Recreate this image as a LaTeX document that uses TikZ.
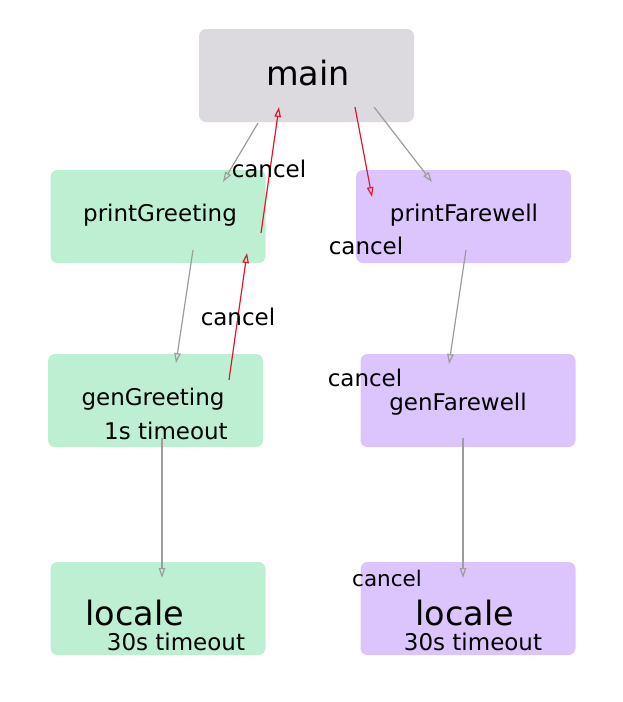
\documentclass[tikz,border=0pt]{standalone}
\usepackage{fontspec}
\setmainfont{DejaVu Sans}
\usetikzlibrary{arrows.meta,calc}
\definecolor{graybox}{HTML}{DCDADF}
\definecolor{greenbox}{HTML}{BDF0D2}
\definecolor{purplebox}{HTML}{DCC4FC}
\definecolor{edgegray}{HTML}{9C9C9C}
\definecolor{edgered}{HTML}{E0182A}
\tikzset{
  box/.style={rectangle, rounded corners=7pt, minimum width=215pt, minimum height=93pt, inner sep=0pt},
  big/.style={inner sep=0pt, font=\fontsize{33.5}{36}\selectfont},
  small/.style={inner sep=0pt, font=\fontsize{23}{25}\selectfont},
  garrow/.style={draw=edgegray, line width=1.2pt, -{Triangle[open, length=10pt, width=6.5pt]}},
  rarrow/.style={draw=edgered, line width=1.2pt, -{Triangle[open, length=10pt, width=6.5pt]}},
}
\begin{document}
\begin{tikzpicture}[x=1pt,y=-1pt]
\useasboundingbox (0,0) rectangle (622,702);
% boxes
\node[box, fill=graybox] (main) at (306.5,75.5) {};
\node[box, fill=greenbox] (pg) at (158,216.5) {};
\node[box, fill=purplebox] (pf) at (463.5,216.5) {};
\node[box, fill=greenbox] (gg) at (155.5,400.5) {};
\node[box, fill=purplebox] (gf) at (468,400.5) {};
\node[box, fill=greenbox] (ll) at (158,608.5) {};
\node[box, fill=purplebox] (lr) at (468,608.5) {};
% texts
\node[big] (tmain) at (308,73) {main};
\node[small] (tpg) at (160,215) {printGreeting};
\node[small] (tpf) at (464,215) {printFarewell};
\node[small] (tgg) at (153,399) {genGreeting};
\node[small] (tgg2) at (166,431) {1s timeout};
\node[small] (tgf) at (458,404) {genFarewell};
\node[big] (tll) at (135,613) {locale};
\node[small] (tll2) at (176,642) {30s timeout};
\node[big] (tlr) at (465,613) {locale};
\node[small] (tlr2) at (473,642) {30s timeout};
% gray arrows
\draw[garrow] ($(main)+(-48.5,47.5)$) -- ($(pg)+(65,-34.5)$);
\draw[garrow] ($(main)+(67.5,31.5)$) -- ($(pf)+(-31.5,-34.5)$);
\draw[garrow] ($(pg)+(35,33.5)$) -- ($(gg)+(20.5,-37.5)$);
\draw[garrow] ($(pf)+(2.5,33.5)$) -- ($(gf)+(-19,-36.5)$);
\draw[garrow] ($(gg)+(6.5,37.5)$) -- ($(ll)+(4,-30.5)$);
\draw[garrow] ($(gf)+(-5,37.5)$) -- ($(lr)+(-5,-30.5)$);
% red arrows
\draw[rarrow] ($(gg)+(73.5,-20.5)$) -- ($(pg)+(89,36.5)$);
\draw[rarrow] ($(pg)+(103,16.5)$) -- ($(main)+(-27.5,31.5)$);
\draw[rarrow] ($(main)+(48.5,31.5)$) -- ($(pf)+(-91.5,-19.5)$);
% cancel labels
\node[small] (c1) at (269,169) {cancel};
\node[small] (c2) at (366,246) {cancel};
\node[small] (c3) at (238,317) {cancel};
\node[small] (c4) at (365,378) {cancel};
\node[small, font=\fontsize{21.5}{24}\selectfont] (c5) at (387,578) {cancel};
\end{tikzpicture}
\end{document}
